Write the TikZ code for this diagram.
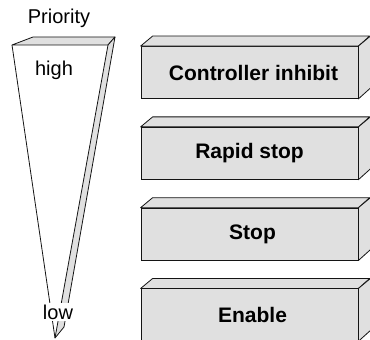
\documentclass[tikz,border=0pt]{standalone}
\usepackage{fontspec}
\setmainfont{Liberation Sans}
\usepackage{tikz}
\usetikzlibrary{positioning, calc}
\definecolor{mydark}{RGB}{20,20,20}
\definecolor{mygray}{RGB}{224,224,224}
\tikzset{
  cmdbox/.style={rectangle, draw=mydark, fill=mygray,
    minimum width=217pt, minimum height=52pt, inner sep=0pt,
    font=\bfseries\fontsize{21}{24}\selectfont, line width=0.8pt},
  face/.style={draw=mydark, fill=mygray, line width=0.8pt, line join=round},
  prio/.style={font=\fontsize{20}{24}\selectfont, inner sep=2pt},
  line/.style={line width=0.8pt, color=mydark}
}
\begin{document}
\begin{tikzpicture}[x=1pt, y=1pt]
  \clip (0,0) rectangle (370,340);

  % Priority wedge
  \coordinate (fl) at (12,295);
  \coordinate (fr) at (108,295);
  \coordinate (bl) at (33,303);
  \coordinate (br) at (115,303);
  \coordinate (bb) at (64,13);
  \coordinate (tip) at (55,2);
  \draw[face] (fl) -- (bl) -- (br) -- (fr) -- cycle;
  \draw[face] (fr) -- (br) -- (bb) -- (tip) -- cycle;
  \draw[line] (fl) -- (tip);
  \node[prio] (prio) at (59,322) {Priority};
  \node[prio] (high) at (54,270) {high};
  \node[prio, fill=white] (low) at (58,28) {low};

  % Command boxes
  \node[cmdbox] (inhibit) at (249.5,267.5) {\hspace*{8pt}Controller inhibit};
  \node[cmdbox, below=28pt of inhibit] (rapid) {Rapid stop};
  \node[cmdbox, below=28pt of rapid] (stop) {\hspace*{6pt}Stop};
  \node[cmdbox, below=28pt of stop] (enable) {\hspace*{6pt}Enable};

  % Top and side faces
  \foreach \b in {inhibit, rapid, stop, enable} {
    \draw[face] (\b.north west) -- ++(12,10) -- ++(217,0) -- (\b.north east) -- cycle;
    \draw[face] (\b.north east) -- ++(12,10) -- ++(0,-52) -- (\b.south east) -- cycle;
  }
\end{tikzpicture}
\end{document}
